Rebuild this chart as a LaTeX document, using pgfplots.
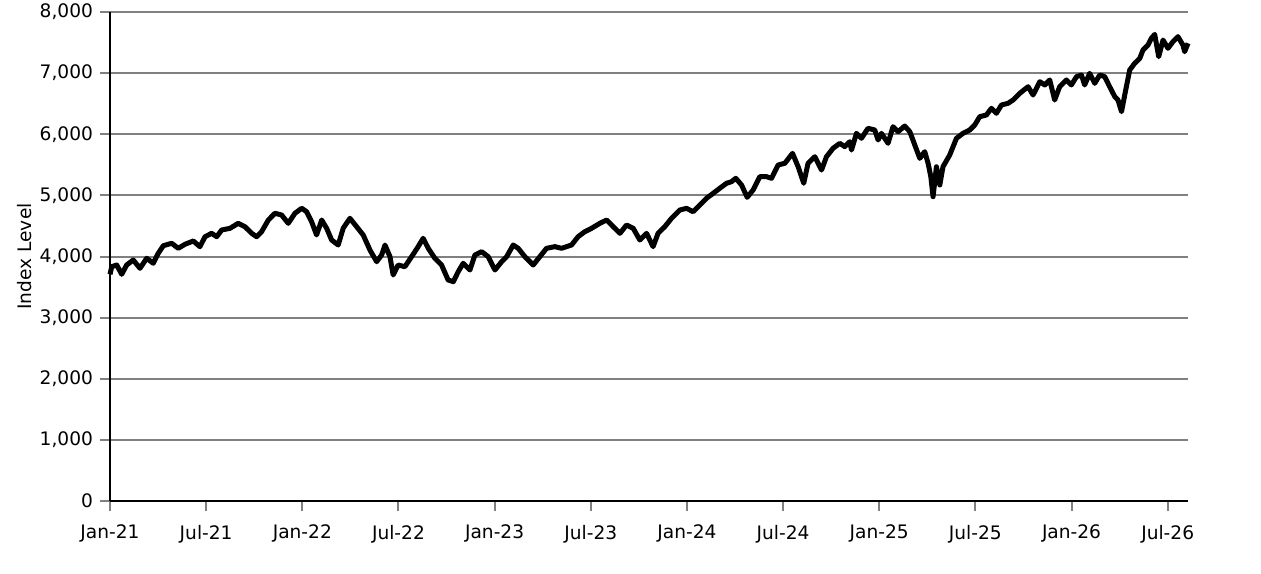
\documentclass[border=0pt]{standalone}
\usepackage{fontspec}
\setmainfont{DejaVu Sans}
\usepackage{pgfplots}
\usepackage{pgfplotstable}
\pgfplotsset{compat=1.18}
\pgfplotstableread{
m v
0.00 3709
0.11 3833
0.42 3861
0.73 3709
1.04 3861
1.45 3943
1.87 3807
2.29 3971
2.70 3889
3.01 4052
3.33 4177
3.85 4216
4.26 4134
4.68 4200
5.20 4254
5.61 4160
5.93 4324
6.34 4379
6.66 4324
6.97 4434
7.49 4461
8.00 4543
8.42 4488
8.84 4379
9.15 4324
9.46 4406
9.88 4597
10.29 4707
10.71 4679
11.12 4543
11.54 4707
11.96 4789
12.27 4733
12.58 4570
12.89 4352
13.21 4597
13.52 4461
13.83 4270
14.24 4188
14.55 4461
14.97 4625
15.39 4488
15.80 4352
16.22 4106
16.64 3915
16.95 4025
17.16 4188
17.47 3997
17.67 3697
17.98 3861
18.40 3833
18.82 3997
19.23 4161
19.54 4298
19.86 4134
20.27 3971
20.69 3861
21.10 3616
21.42 3588
21.73 3752
22.04 3889
22.46 3779
22.77 4025
23.19 4079
23.60 3997
24.02 3779
24.44 3915
24.75 3997
25.16 4188
25.47 4134
25.89 3997
26.41 3861
26.82 3997
27.24 4134
27.76 4161
28.18 4134
28.80 4188
29.21 4324
29.63 4406
30.05 4461
30.57 4543
30.99 4597
31.40 4488
31.82 4379
32.23 4515
32.65 4461
33.06 4270
33.48 4379
33.89 4161
34.20 4379
34.62 4488
35.04 4625
35.56 4761
35.98 4788
36.39 4733
36.81 4843
37.22 4952
37.64 5034
38.05 5116
38.47 5198
38.78 5224
39.05 5279
39.41 5170
39.76 4968
40.13 5088
40.55 5306
40.97 5306
41.28 5279
41.69 5497
42.11 5525
42.59 5688
42.94 5469
43.29 5198
43.56 5525
43.98 5633
44.40 5415
44.71 5633
45.12 5770
45.54 5852
45.85 5797
46.16 5879
46.27 5742
46.58 6015
46.89 5934
47.30 6097
47.72 6070
47.93 5906
48.14 6015
48.55 5852
48.86 6124
49.18 6042
49.59 6135
49.91 6042
50.22 5824
50.53 5606
50.84 5715
51.05 5525
51.22 5306
51.36 4979
51.57 5469
51.78 5170
51.98 5469
52.40 5661
52.82 5934
53.23 6015
53.65 6070
53.96 6151
54.27 6287
54.69 6315
55.00 6424
55.31 6343
55.63 6479
56.04 6506
56.35 6560
56.77 6670
57.29 6778
57.60 6642
58.02 6860
58.33 6806
58.64 6888
58.95 6560
59.26 6778
59.68 6888
59.99 6806
60.31 6942
60.62 6969
60.82 6806
61.13 6997
61.45 6833
61.76 6969
62.07 6942
62.38 6778
62.70 6615
62.90 6560
63.12 6369
63.32 6642
63.63 7051
63.94 7160
64.26 7242
64.46 7378
64.77 7460
64.98 7569
65.19 7634
65.44 7269
65.71 7542
66.02 7406
66.33 7515
66.64 7597
66.95 7460
67.06 7351
67.27 7488
}\indexdata
\begin{document}
\begin{tikzpicture}
\useasboundingbox (0,0) rectangle (630.5pt,286.5pt);
\begin{axis}[
  at={(55pt,36pt)}, anchor=south west,
  scale only axis, width=539pt, height=244.5pt,
  xmin=0, xmax=67.27, ymin=0, ymax=8000,
  axis x line*=bottom, axis y line*=left,
  axis line style={black, line width=1pt},
  ymajorgrids, grid style={black!50, line width=1pt},
  xtick={0,6,...,66},
  xticklabels={Jan-21,Jul-21,Jan-22,Jul-22,Jan-23,Jul-23,Jan-24,Jul-24,Jan-25,Jul-25,Jan-26,Jul-26},
  x tick label style={yshift=-3.5pt},
  ytick={0,1000,...,8000},
  scaled y ticks=false,
  y tick label style={/pgf/number format/.cd, 1000 sep={,}},
  /pgf/number format/assume math mode=true,
  tick style={black!50, line width=1pt},
  tick align=outside, major tick length=5pt,
  font=\fontsize{9.3}{11}\selectfont,
  ylabel={Index Level},
  y label style={at={(axis description cs:-0.0789,0.5)}, anchor=center},
  clip=false,
]
\addplot[black, line width=2.5pt, line join=round, no marks] table[x=m, y=v] {\indexdata};
\end{axis}
\end{tikzpicture}
\end{document}
